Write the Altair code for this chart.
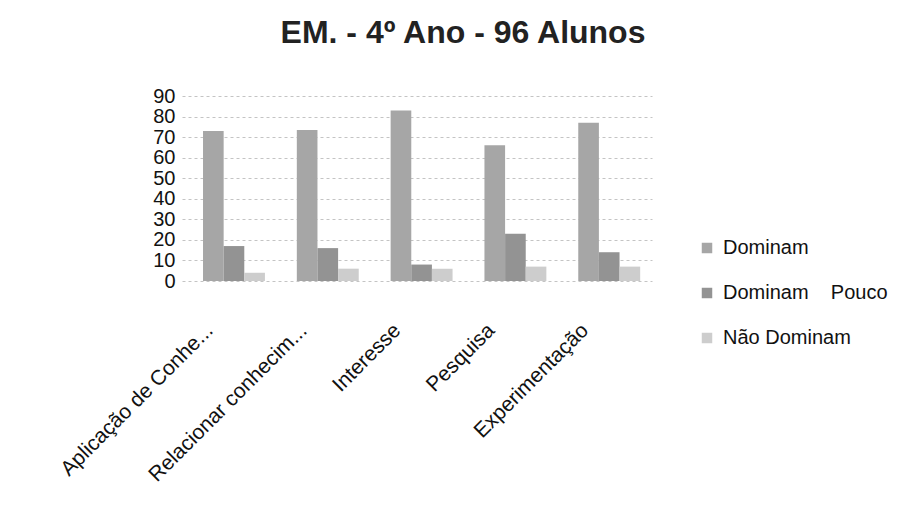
import altair as alt
import pandas as pd

categories = ["Aplicação de Conhe...", "Relacionar conhecim...", "Interesse", "Pesquisa", "Experimentação"]
series = ["Dominam", "Dominam\u00a0\u00a0\u00a0\u00a0Pouco", "Não Dominam"]
dominam = [73, 73.5, 83, 66, 77]
dominam_pouco = [17, 16, 8, 23, 14]
nao_dominam = [4, 6, 6, 7, 7]
y_ticks = [0, 10, 20, 30, 40, 50, 60, 70, 80, 90]
colors = ["#a6a6a6", "#939393", "#cdcdcd"]

rows = []
for i, c in enumerate(categories):
    for s, vals in zip(series, [dominam, dominam_pouco, nao_dominam]):
        rows.append({"cat": c, "serie": s, "valor": vals[i]})
df = pd.DataFrame(rows)

W, H = 470, 185
FONT = "Liberation Sans"

chart = alt.Chart(df).mark_bar().encode(
    x=alt.X("cat:N", sort=categories, title=None,
            scale=alt.Scale(paddingInner=0.34, paddingOuter=0.175, align=0.64),
            axis=alt.Axis(labelAngle=315, labelAlign="right", labelBaseline="middle",
                          labelOffset=-24, labelPadding=46, ticks=False, domain=False,
                          labelFontSize=21, labelFont=FONT, labelColor="#111",
                          labelLimit=400, labelOverlap=False)),
    xOffset=alt.XOffset("serie:N", sort=series),
    y=alt.Y("valor:Q", scale=alt.Scale(domain=[0, 90], nice=False),
            axis=alt.Axis(values=y_ticks, title=None, domain=False, ticks=False,
                          labelFontSize=20, labelFont=FONT, labelColor="#111",
                          labelPadding=7, labelOverlap=False, grid=True,
                          gridColor="#c4c4c4", gridDash=[3, 3], gridWidth=1)),
    color=alt.Color("serie:N", sort=series,
                    scale=alt.Scale(domain=series, range=colors),
                    legend=alt.Legend(title=None, orient="none", legendX=515, legendY=142,
                                      symbolType="square", symbolSize=110,
                                      symbolStrokeWidth=0, labelLimit=400,
                                      labelFontSize=20, labelFont=FONT, labelColor="#111",
                                      rowPadding=25, labelOffset=6)),
).properties(
    width=W, height=H,
    title=alt.TitleParams("EM. - 4º Ano - 96 Alunos", font=FONT, fontSize=32,
                          fontWeight="bold", color="#222", anchor="middle",
                          dx=46, offset=36),
    autosize=alt.AutoSizeParams(type="none"),
    padding={"left": 174, "top": 88, "right": 245, "bottom": 230},
).configure_view(stroke=None)

chart.save("out.html", embed_options={"renderer": "svg", "actions": False})
